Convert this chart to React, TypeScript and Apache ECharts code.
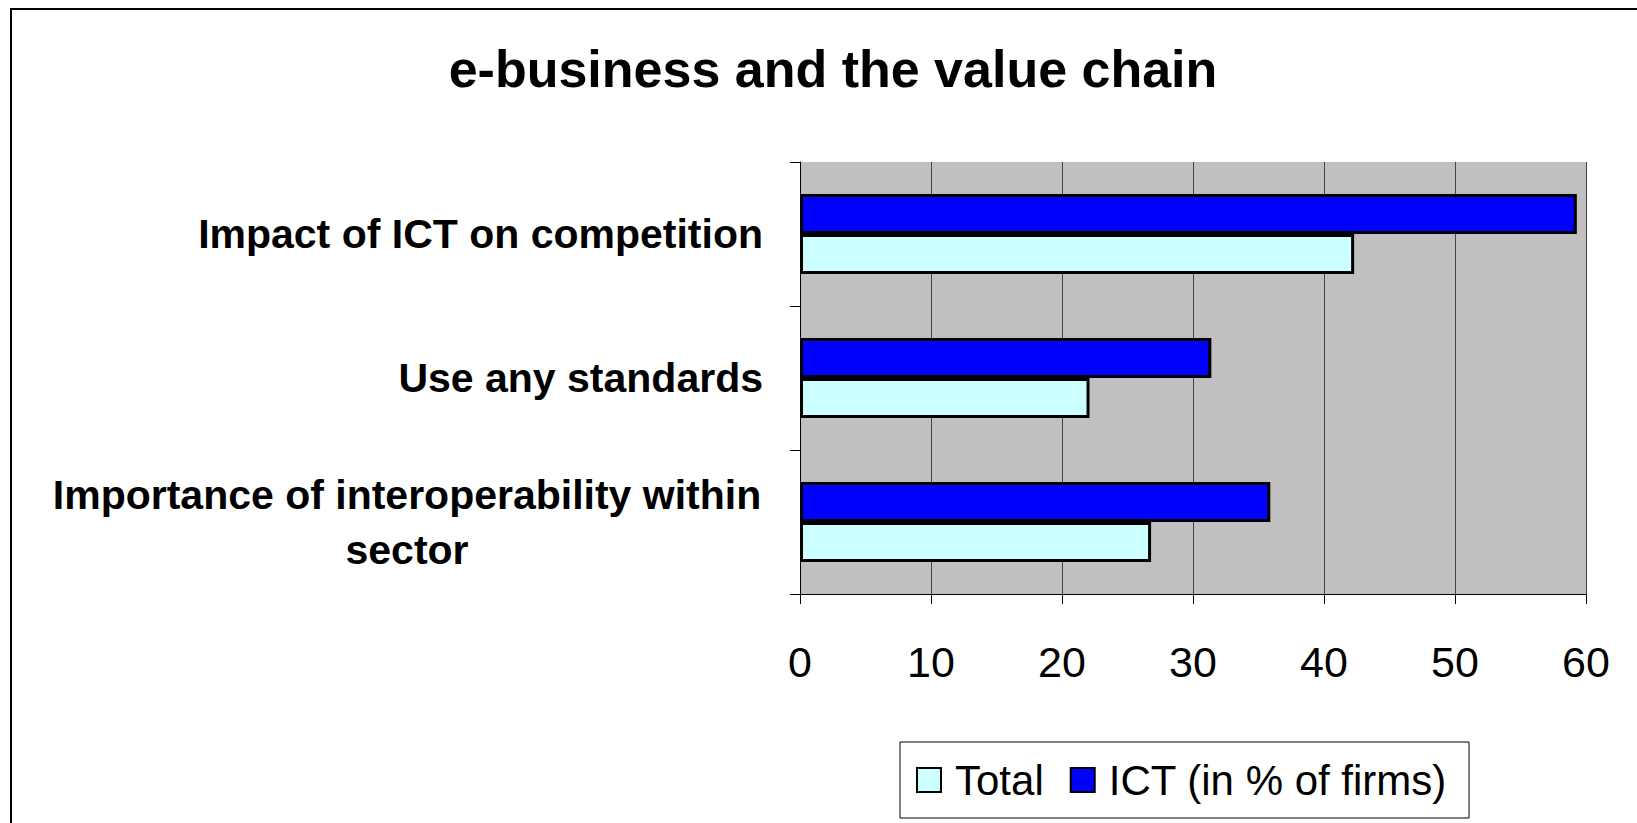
import React, { useEffect, useRef } from "react";
import * as echarts from "echarts";

const title = "e-business and the value chain";
const categories = [
  "Importance of interoperability within sector",
  "Use any standards",
  "Impact of ICT on competition",
];
const totalValues = [26.8, 22.1, 42.3];
const ictValues = [35.9, 31.4, 59.3];
const seriesNames = ["Total", "ICT (in % of firms)"];
const xTicks = [0, 10, 20, 30, 40, 50, 60];

const FONT = "'Liberation Sans', Arial, sans-serif";

export default function App() {
  const ref = useRef<HTMLDivElement>(null);
  useEffect(() => {
    if (!ref.current) return;
    const chart = echarts.init(ref.current, undefined, { renderer: "svg" });
    chart.setOption({
      animation: false,
      backgroundColor: "#ffffff",
      title: {
        text: title,
        left: 828,
        top: 38,
        textAlign: "center",
        textStyle: { fontFamily: FONT, fontSize: 52, fontWeight: "bold", color: "#000" },
      },
      graphic: [
        {
          type: "rect",
          shape: { x: 11, y: 9, width: 1700, height: 900 },
          style: { fill: "none", stroke: "#000", lineWidth: 2 },
          silent: true,
        },
      ],
      grid: {
        left: 800,
        right: 51,
        top: 162,
        bottom: 229,
        show: true,
        backgroundColor: "#c0c0c0",
        borderWidth: 0,
      },
      legend: {
        left: 900,
        top: 742,
        data: seriesNames,
        icon: "rect",
        itemWidth: 24,
        itemHeight: 24,
        itemGap: 26,
        padding: [17, 22, 17, 16],
        borderColor: "#000",
        borderWidth: 1,
        textStyle: { fontFamily: FONT, fontSize: 42, color: "#000", padding: [0, 0, 0, 9] },
      },
      xAxis: {
        type: "value",
        min: 0,
        max: 60,
        interval: 10,
        axisLine: { show: true, lineStyle: { color: "#000", width: 1 } },
        axisTick: { show: true, length: 10, lineStyle: { color: "#000" } },
        splitLine: { show: true, lineStyle: { color: "#444", width: 1 } },
        axisLabel: {
          margin: 46,
          fontFamily: FONT,
          fontSize: 43,
          color: "#000",
          formatter: (v: number) => (xTicks.includes(v) ? String(v) : ""),
        },
      },
      yAxis: {
        type: "category",
        data: categories,
        axisLine: { show: true, lineStyle: { color: "#000", width: 1 } },
        axisTick: { show: true, length: 10, lineStyle: { color: "#000" } },
        axisLabel: {
          margin: 37,
          fontFamily: FONT,
          fontSize: 41,
          fontWeight: "bold",
          color: "#000",
          formatter: (v: string) =>
            v === categories[0]
              ? "{c|Importance of interoperability within}\n{c|sector}"
              : v,
          rich: {
            c: {
              width: 712,
              align: "center",
              fontFamily: FONT,
              fontSize: 41,
              fontWeight: "bold",
              lineHeight: 55,
              color: "#000",
            },
          },
        },
      },
      series: [
        {
          name: seriesNames[1],
          type: "bar",
          data: ictValues,
          barWidth: 40,
          barGap: "0%",
          itemStyle: { color: "#0000ff", borderColor: "#000", borderWidth: 3 },
        },
        {
          name: seriesNames[0],
          type: "bar",
          data: totalValues,
          barWidth: 40,
          barGap: "0%",
          itemStyle: { color: "#ccffff", borderColor: "#000", borderWidth: 3 },
        },
      ],
    });
    return () => chart.dispose();
  }, []);
  return (
    <div
      ref={ref}
      style={{ position: "absolute", left: 0, top: 0, width: 1637, height: 823 }}
    />
  );
}
